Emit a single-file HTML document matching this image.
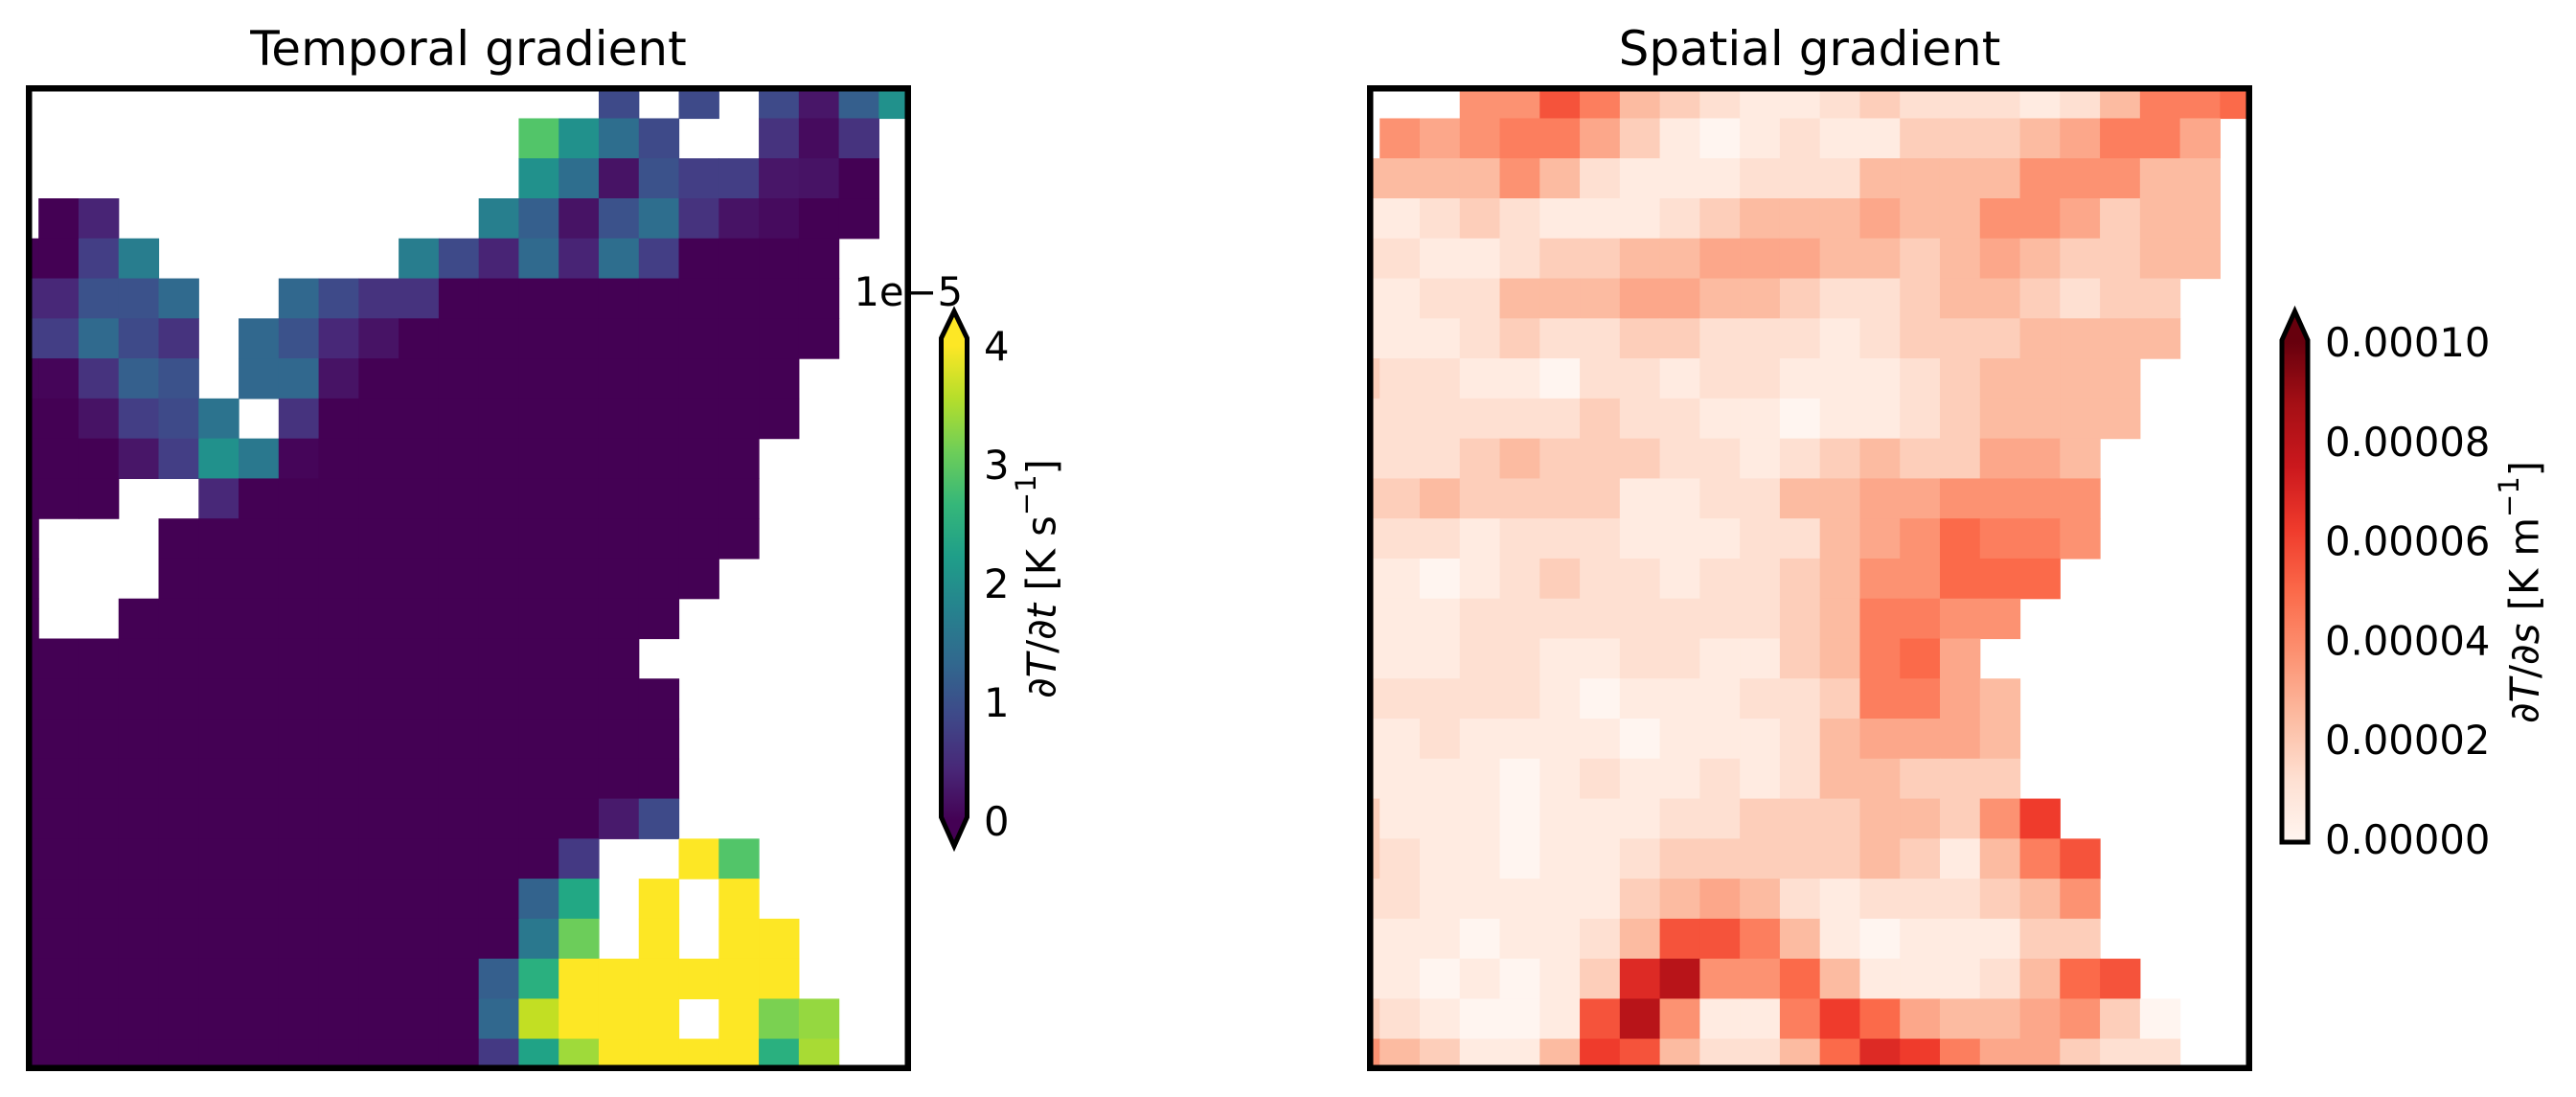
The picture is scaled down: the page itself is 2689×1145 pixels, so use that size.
<!DOCTYPE html>
<html><head><meta charset="utf-8"><style>
html,body{margin:0;padding:0;background:#fff;}
svg{display:block;}
text{font-family:"DejaVu Sans","Liberation Sans",sans-serif;fill:#000;}
</style></head><body>
<svg id="s" width="2689" height="1145" viewBox="0 0 2689 1145" xmlns="http://www.w3.org/2000/svg">
<defs>
<clipPath id="cl"><rect x="30.25" y="92.25" width="917.5" height="1022.5"/></clipPath>
<clipPath id="cr"><rect x="1430.25" y="92.25" width="917.5" height="1022.5"/></clipPath>
<linearGradient id="gv" gradientUnits="userSpaceOnUse" x1="0" y1="857" x2="0" y2="361">
<stop offset="0" stop-color="#440154"/><stop offset="0.111" stop-color="#482878"/><stop offset="0.222" stop-color="#3e4989"/><stop offset="0.333" stop-color="#31688e"/><stop offset="0.444" stop-color="#26828e"/><stop offset="0.556" stop-color="#1f9e89"/><stop offset="0.667" stop-color="#35b779"/><stop offset="0.778" stop-color="#6ece58"/><stop offset="0.889" stop-color="#b5de2b"/><stop offset="1" stop-color="#fde725"/>
</linearGradient>
<linearGradient id="gr" gradientUnits="userSpaceOnUse" x1="0" y1="879" x2="0" y2="357">
<stop offset="0" stop-color="#fff5f0"/><stop offset="0.125" stop-color="#fee0d2"/><stop offset="0.25" stop-color="#fcbba1"/><stop offset="0.375" stop-color="#fc9272"/><stop offset="0.5" stop-color="#fb6a4a"/><stop offset="0.625" stop-color="#ef3b2c"/><stop offset="0.75" stop-color="#cb181d"/><stop offset="0.875" stop-color="#a50f15"/><stop offset="1" stop-color="#67000d"/>
</linearGradient>
</defs>
<g id="L" clip-path="url(#cl)"></g>
<g id="R" clip-path="url(#cr)"></g>
<rect x="30.25" y="92.25" width="917.5" height="1022.5" fill="none" stroke="#000" stroke-width="6.5"/>
<rect x="1430.25" y="92.25" width="917.5" height="1022.5" fill="none" stroke="#000" stroke-width="6.5"/>
<text x="489" y="68" font-size="50" text-anchor="middle">Temporal gradient</text>
<text x="1889" y="68" font-size="50" text-anchor="middle">Spatial gradient</text>

<polygon points="982.5,353 996,325 1009.5,353 1009.5,853 996,883 982.5,853" fill="url(#gv)" stroke="#000" stroke-width="5" stroke-linejoin="miter"/>
<text x="1005" y="319" font-size="41.7" text-anchor="end">1e−5</text>
<g font-size="41.7">
<text x="1027" y="376">4</text>
<text x="1027" y="500">3</text>
<text x="1027" y="624">2</text>
<text x="1027" y="748">1</text>
<text x="1027" y="872">0</text>
</g>
<text transform="translate(1087,604) rotate(-90)" font-size="41.7" text-anchor="middle" dominant-baseline="central">∂<tspan font-style="italic">T</tspan>/∂<tspan font-style="italic">t</tspan> [K s<tspan font-size="29" dy="-16">−1</tspan><tspan dy="16">]</tspan></text>

<polygon points="2382,355 2395.5,325 2409,355 2409,879 2382,879" fill="url(#gr)" stroke="#000" stroke-width="5" stroke-linejoin="miter"/>
<g font-size="41.7">
<text x="2427" y="372">0.00010</text>
<text x="2427" y="475.8">0.00008</text>
<text x="2427" y="579.6">0.00006</text>
<text x="2427" y="683.4">0.00004</text>
<text x="2427" y="787.2">0.00002</text>
<text x="2427" y="891">0.00000</text>
</g>
<text transform="translate(2635,618) rotate(-90)" font-size="41.7" text-anchor="middle" dominant-baseline="central">∂<tspan font-style="italic">T</tspan>/∂<tspan font-style="italic">s</tspan> [K m<tspan font-size="29" dy="-16">−1</tspan><tspan dy="16">]</tspan></text>
</svg>
<script>
(function(){
var NS="http://www.w3.org/2000/svg";
function R(c,n){return c.repeat(n);}
var cmap={'P':'#440154','a':'#3e4a89','b':'#481668','c':'#355f8d','d':'#21918c','e':'#52c569','f':'#2e6e8e','g':'#46337e','h':'#471365','i':'#3b528b','j':'#433e85','k':'#460b5e','l':'#277f8e','m':'#482475','n':'#287d8e','o':'#482878','p':'#306a8e','q':'#31688e','r':'#2c738e','s':'#2a788e','t':'#450559','u':'#33638d','v':'#22a884','w':'#6ccd5a','x':'#2ab07f','y':'#fde725','z':'#c2df23','A':'#7ad151','B':'#95d840','C':'#20a386','D':'#9fda3a','E':'#a8db34','F':'#443983','G':'#481a6c','H':'#35608d'};
var L=[
R('.',15)+"a.a.abcd",
R('.',13)+"edfa..gkg.",
R('.',13)+"dfhijjbhP.",
".Pm"+R('.',9)+"lchifghkPP.",
"PPjn"+R('.',6)+"nampmfjPPPP..",
"ooiip..qagg"+R('P',10)+"..",
"jjpag.qioh"+R('P',11)+"..",
"ttgHi.qqh"+R('P',11)+"...",
"PPhjar.g"+R('P',12)+"...",
"PPPbjdst"+R('P',11)+"....",
"PPP..o"+R('P',13)+"....",
"P..."+R('P',15)+"....",
"P..."+R('P',14)+".....",
"P.."+R('P',14)+"......",
R('P',16)+".......",
R('P',17)+"......",
R('P',17)+"......",
R('P',17)+"......",
R('P',15)+"Ga......",
R('P',14)+"F..ye....",
R('P',13)+"uv.y.y....",
R('P',13)+"sw.y.yy...",
R('P',12)+"cx"+R('y',6)+"...",
R('P',12)+"qzyyy.yAB..",
R('P',12)+"FCDyyyyxE.."
];
var Rr=[
"...66974321123222124778",
".656775310121133345775.",
"4444642111222444466644.",
"1123211123444544665344.",
"2211233445554434543344.",
"112244455443223443233..",
"111232233222123334444..",
"32211022122111234444...",
"22222232211011234444...",
"2223433322123433554....",
"3343333112244556666....",
"2221222111224568776....",
"110123221223466888.....",
"11122222222347766......",
"1112211221134785.......",
"22222101112237754......",
"11211110111245554......",
"11110121121244333......",
"31110111223334436a.....",
"3211011233333431479....",
"2211111345421222346....",
"1110112499741011133....",
"1101013bd66841112489...",
"3210019d6117a85445630..",
"643114a942248ba755322.."
];
var st=[[255,245,240],[254,224,210],[252,187,161],[252,146,114],[251,106,74],[239,59,44],[203,24,29],[165,15,21],[103,0,13]];
function reds(t){t=Math.max(0,Math.min(1,t))*8;var i=Math.min(7,Math.floor(t)),f=t-i;var a=st[i],b=st[i+1];
return 'rgb('+[0,1,2].map(function(k){return Math.round(a[k]+(b[k]-a[k])*f);}).join(',')+')';}
var W=41.77,x0=-1.57,y0=81.7;
function put(g,x,y,c){var r=document.createElementNS(NS,'rect');r.setAttribute('x',x.toFixed(2));r.setAttribute('y',y.toFixed(2));r.setAttribute('width',(W+0.6).toFixed(2));r.setAttribute('height',(W+0.6).toFixed(2));r.setAttribute('fill',c);g.appendChild(r);}
var gL=document.getElementById('L'),gR=document.getElementById('R');
for(var r=0;r<25;r++){
 var s=L[r]||"";
 for(var c=0;c<23;c++){var ch=s.charAt(c);if(ch&&ch!=='.'&&cmap[ch])put(gL,x0+W*c,y0+W*r,cmap[ch]);}
 var q=Rr[r]||"";
 for(var c2=0;c2<23;c2++){var d=q.charAt(c2);if(d&&d!=='.'){put(gR,1400+x0+W*c2,y0+W*r,reds(parseInt(d,16)/16));}}
}
})();
</script>
</body></html>
